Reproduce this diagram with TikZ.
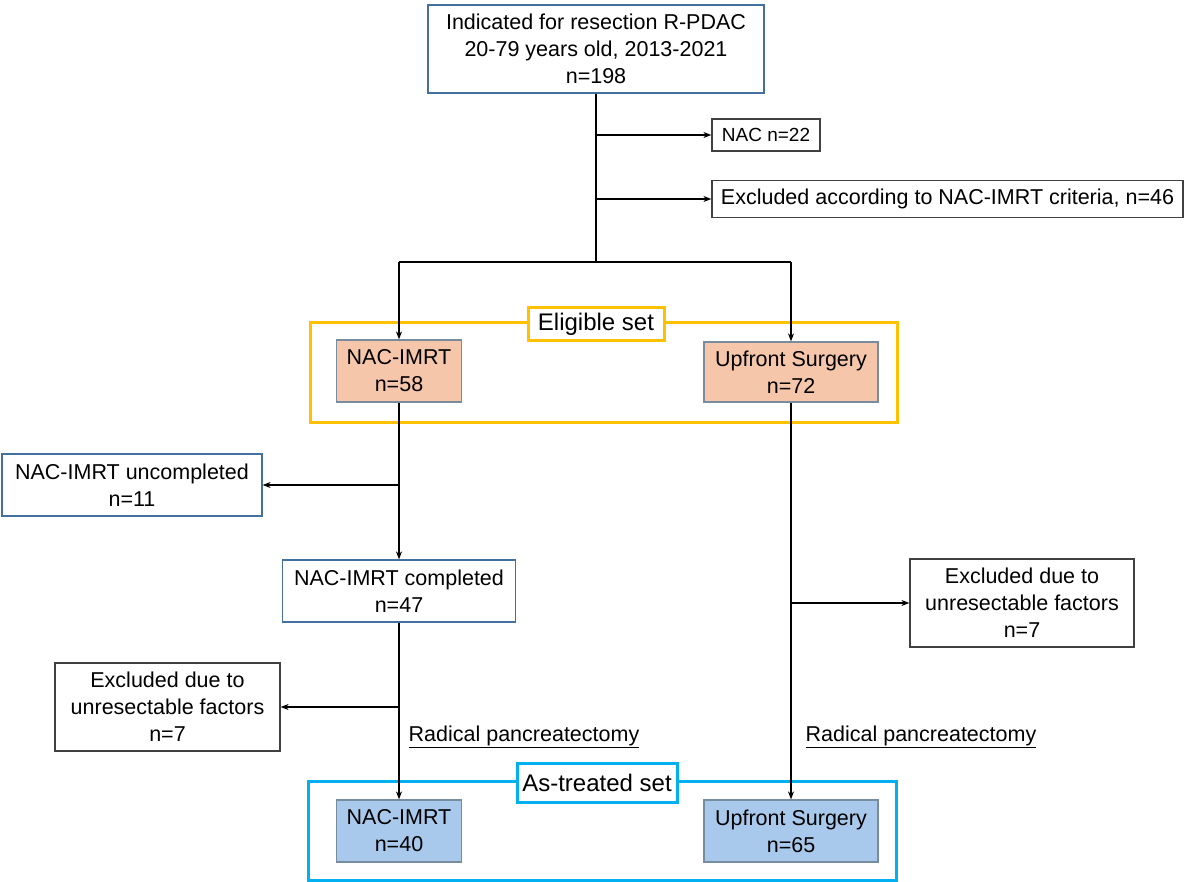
\documentclass[tikz,border=0pt]{standalone}
\usepackage{fontspec}
\setmainfont{Liberation Sans}
\usepackage{tikz}
\usetikzlibrary{arrows.meta}
\definecolor{edgeblue}{RGB}{65,113,156}
\definecolor{fillorange}{RGB}{246,198,170}
\definecolor{fillblue}{RGB}{168,201,236}
\definecolor{edgegrey}{RGB}{120,140,160}
\definecolor{setyellow}{RGB}{255,192,0}
\definecolor{setcyan}{RGB}{0,176,240}
\tikzset{
  box/.style = {draw = edgeblue, fill = white, line width = 1.2pt, align = center, inner sep = 0pt,
    font = \fontsize{21.5}{27}\selectfont},
  greybox/.style = {box, draw = black!75},
  orangebox/.style = {box, draw = edgegrey, fill = fillorange},
  bluebox/.style = {box, draw = edgegrey, fill = fillblue},
  setlabel/.style = {box, line width = 3pt, font = \fontsize{24}{28}\selectfont},
  flow/.style = {line width = 1.6pt, -{Stealth[length = 8pt, width = 6pt]}},
  link/.style = {line width = 1.6pt}
}
\begin{document}
\begin{tikzpicture}[x = 1pt, y = -1pt]
\useasboundingbox (0,0) rectangle (1191,882);
% frames of the two sets
\draw[setyellow, line width = 3pt] (310,323) rectangle (897,422);
\draw[setcyan, line width = 3pt] (308,781) rectangle (896,880);

\node[box, minimum width = 336, minimum height = 88] (top) at (596,49)
  {Indicated for resection R-PDAC\\20-79 years old, 2013-2021\\n=198};
\node[greybox, minimum width = 108, minimum height = 32, font = \fontsize{19}{23}\selectfont] (nac) at (766,135) {NAC n=22};
\node[greybox, minimum width = 471, minimum height = 37] (crit) at (947.5,199) {Excluded according to NAC-IMRT criteria, n=46};
\coordinate (split) at (596,262);

\node[setlabel, draw = setyellow, minimum width = 136, minimum height = 33] (elig) at (596,324.5) {Eligible set};
\node[orangebox, minimum width = 125, minimum height = 62] (nacA) at (399,371) {NAC-IMRT\\n=58};
\node[orangebox, minimum width = 174, minimum height = 60] (upA) at (791,372) {Upfront Surgery\\n=72};

\node[box, minimum width = 260, minimum height = 62] (uncomp) at (132,485) {NAC-IMRT uncompleted\\n=11};
\node[box, minimum width = 233, minimum height = 62] (comp) at (399,591) {NAC-IMRT completed\\n=47};
\node[greybox, minimum width = 225, minimum height = 88] (unresL) at (167.5,707) {Excluded due to\\unresectable factors\\n=7};
\node[greybox, minimum width = 224, minimum height = 88] (unresR) at (1022,603) {Excluded due to\\unresectable factors\\n=7};
\node[font = \fontsize{21.5}{25}\selectfont] (radL) at (524,737) {\underline{Radical pancreatectomy}};
\node[font = \fontsize{21.5}{25}\selectfont] (radR) at (921,737) {\underline{Radical pancreatectomy}};

\node[setlabel, draw = setcyan, minimum width = 160, minimum height = 39] (treat) at (597,782.5) {As-treated set};
\node[bluebox, minimum width = 125, minimum height = 62] (nacB) at (399,831) {NAC-IMRT\\n=40};
\node[bluebox, minimum width = 174, minimum height = 62] (upB) at (791,831) {Upfront Surgery\\n=65};

% connectors
\draw[link] (top.south) -- (split);
\draw[flow] (top.south |- nac) -- (nac.west);
\draw[flow] (top.south |- crit) -- (crit.west);
\draw[link] (nacA.north |- split) -- (upA.north |- split);
\draw[flow] (nacA.north |- split) -- (nacA.north);
\draw[flow] (upA.north |- split) -- (upA.north);
\draw[flow] (nacA.south) -- (comp.north);
\draw[flow] (nacA.south |- uncomp) -- (uncomp.east);
\draw[flow] (comp.south) -- (nacB.north);
\draw[flow] (comp.south |- unresL) -- (unresL.east);
\draw[flow] (upA.south) -- (upB.north);
\draw[flow] (upA.south |- unresR) -- (unresR.west);
\end{tikzpicture}
\end{document}
